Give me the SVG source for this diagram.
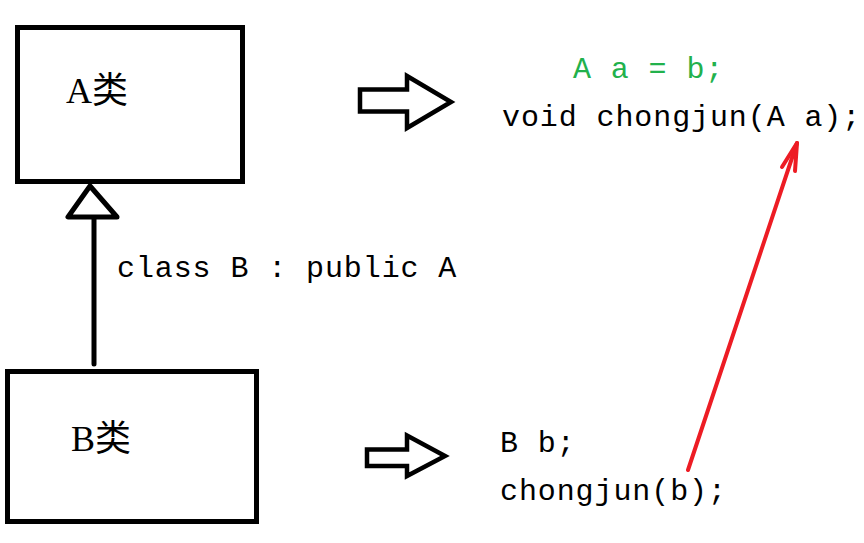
<svg xmlns="http://www.w3.org/2000/svg" width="864" height="543" viewBox="0 0 864 543">
<style>
.box{fill:#fff;stroke:#000;stroke-width:5}
.blk{fill:none;stroke:#000;stroke-width:4.5;stroke-linejoin:miter}
.cls{font-family:"Liberation Serif","Noto Sans CJK SC",serif;font-size:36px;fill:#000}
.code{font-family:"Liberation Mono",monospace;font-size:30px;letter-spacing:0.9px;fill:#000}
.red{fill:none;stroke:#ed1c24;stroke-width:4;stroke-linecap:round;stroke-linejoin:round}
</style>
<rect width="864" height="543" fill="#fff"/>
<g id="nodeA">
<rect class="box" x="17.5" y="27.5" width="225" height="154"/>
<text class="cls" x="66" y="103">A类</text>
</g>
<g id="nodeB">
<rect class="box" x="7.5" y="371.5" width="249" height="150"/>
<text class="cls" x="71" y="451">B类</text>
</g>
<g id="connectors">
<line x1="94" y1="218" x2="94" y2="364" stroke="#000" stroke-width="5" stroke-linecap="round"/>
<polygon points="90,186 68,217 117,217" fill="#fff" stroke="#000" stroke-width="5" stroke-linejoin="round"/>
<polygon class="blk" points="360,89.5 407,89.5 407,76 451,102 407,128 407,111.5 360,111.5"/>
<polygon class="blk" points="367,449.5 407,449.5 407,435.5 445,456 407,476 407,466 367,466"/>
<line class="red" x1="688" y1="470" x2="797" y2="143"/>
<polyline class="red" points="782,167 797,143 795,171"/>
</g>
<g id="texts">
<text class="code" x="117" y="277">class B : public A</text>
<text class="code" x="573" y="78" fill="#22b14c" style="fill:#22b14c">A a = b;</text>
<text class="code" x="502" y="126">void chongjun(A a);</text>
<text class="code" x="500" y="452">B b;</text>
<text class="code" x="500" y="500">chongjun(b);</text>
</g>
</svg>
